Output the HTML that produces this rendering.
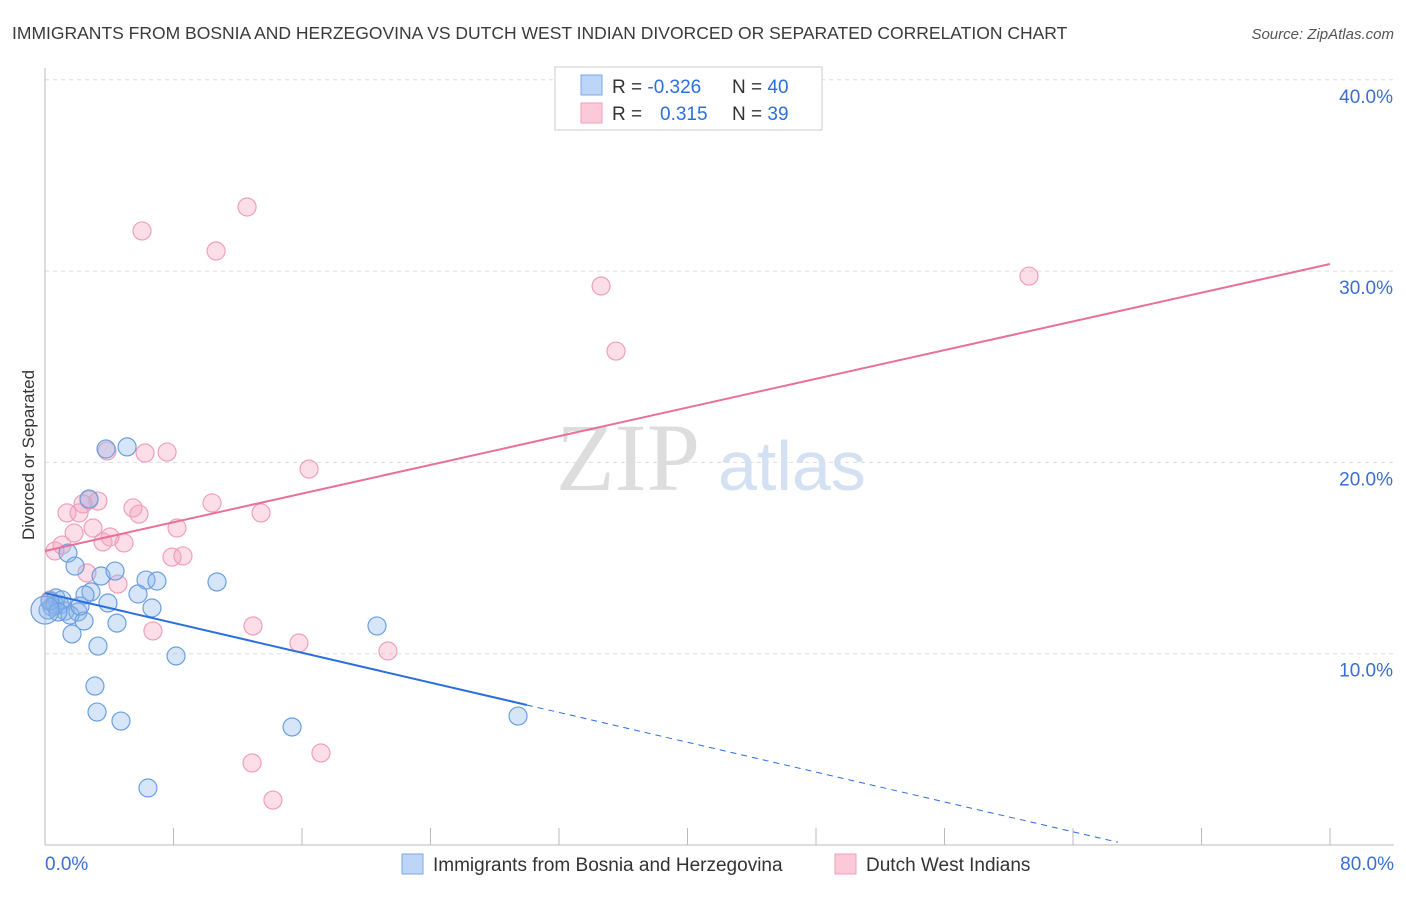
<!DOCTYPE html>
<html><head><meta charset="utf-8"><style>
body{margin:0;background:#fff;font-family:"Liberation Sans",sans-serif;}
</style></head><body>
<svg width="1406" height="892" xmlns="http://www.w3.org/2000/svg" font-family="Liberation Sans, sans-serif">
<text x="12" y="39" font-size="17.5" fill="#3a3a3a">IMMIGRANTS FROM BOSNIA AND HERZEGOVINA VS DUTCH WEST INDIAN DIVORCED OR SEPARATED CORRELATION CHART</text>
<text x="1394" y="39" font-size="15" fill="#555" text-anchor="end" font-style="italic">Source: ZipAtlas.com</text>
<g id="grid"></g>
<text x="700" y="490" font-size="96" fill="#ddd" text-anchor="end" font-family="Liberation Serif, serif">ZIP</text>
<text x="718" y="490" font-size="70" fill="#d4e1f3">atlas</text>
<text transform="translate(34,455) rotate(-90)" font-size="17" fill="#333" text-anchor="middle">Divorced or Separated</text>
<g id="pts"></g>
<g id="lines"></g>
<g>
<rect x="555" y="67" width="267" height="63" fill="#fff" stroke="#ccc"/>
<rect x="581" y="75" width="21" height="20" fill="#bdd5f7" stroke="#7ba7e6"/>
<rect x="581" y="103" width="21" height="20" fill="#fcc9d8" stroke="#f0a0b8"/>
<text x="612" y="93" font-size="19" fill="#333">R = <tspan fill="#2a6fdb">-0.326</tspan><tspan x="732">N = </tspan><tspan fill="#2a6fdb">40</tspan></text>
<text x="612" y="120" font-size="19" fill="#333">R = <tspan x="660" fill="#2a6fdb">0.315</tspan><tspan x="732">N = </tspan><tspan fill="#2a6fdb">39</tspan></text>
</g>
<g>
<rect x="402" y="854" width="21" height="20" fill="#bdd5f7" stroke="#7ba7e6"/>
<text x="433" y="871" font-size="19" fill="#333">Immigrants from Bosnia and Herzegovina</text>
<rect x="835" y="854" width="21" height="20" fill="#fcc9d8" stroke="#f0a0b8"/>
<text x="866" y="871" font-size="19" fill="#333">Dutch West Indians</text>
</g>
</svg>
<script>
const yTicks=[10,20,30,40];
const yTickLabels=["10.0%","20.0%","30.0%","40.0%"];
const xEndLabels=["0.0%","80.0%"];
const blueX=[3.80,5.11,2.74,1.43,1.87,3.49,4.36,6.29,6.97,10.71,2.86,2.49,5.79,3.92,6.66,0.68,0.93,0.44,0.19,1.25,2.05,1.56,2.43,4.48,1.68,3.30,8.16,20.67,3.11,3.24,4.73,15.38,29.45,6.41,0.62,1.06,0.31,2.18,0.81,0];
const blueY=[20.70,20.81,18.09,15.26,14.58,14.06,14.32,13.85,13.80,13.75,13.23,13.07,13.12,12.65,12.39,12.91,12.55,12.44,12.28,12.23,12.18,12.02,11.71,11.60,11.03,10.40,9.88,11.45,8.31,6.95,6.48,6.17,6.74,2.98,12.55,12.81,12.75,12.49,12.18,12.28];
const pinkX=[12.58,6.04,10.65,61.26,34.62,35.55,3.86,6.23,7.60,16.44,2.74,3.30,2.37,1.37,2.12,5.48,10.40,5.85,13.45,2.99,8.22,1.81,4.05,3.61,4.92,1.06,0.62,7.91,8.59,2.61,4.54,12.95,6.72,15.81,21.35,17.18,12.89,14.19,0.31];
const pinkY=[33.35,32.10,31.05,29.74,29.22,25.82,20.60,20.49,20.54,19.65,18.03,17.98,17.83,17.36,17.36,17.62,17.88,17.30,17.36,16.57,16.57,16.31,16.10,15.84,15.79,15.68,15.37,15.05,15.11,14.22,13.64,11.45,11.19,10.56,10.14,4.81,4.29,2.35,12.81];
const blueTrend=[13.17,-0.195]; // intercept, slope
const pinkTrend=[15.37,0.1875];
const blueSolidEnd=30, blueDashEnd=66.8, pinkEnd=80;

const NS="http://www.w3.org/2000/svg";
const X=v=>45+v/80*1285;
const Y=v=>845-v*19.13;
function mk(tag,attrs,parent){const e=document.createElementNS(NS,tag);for(const k in attrs)e.setAttribute(k,attrs[k]);parent.appendChild(e);return e;}
const grid=document.getElementById('grid');
yTicks.forEach((t,i)=>{
  const l=mk('line',{x1:45,x2:1394,y1:Y(t),y2:Y(t),stroke:'#ddd','stroke-dasharray':'4,4'},grid);
  
  
  const tx=mk('text',{x:1393,y:Y(t)+23,'font-size':19,fill:'#3a6fd0','text-anchor':'end'},grid);
  tx.textContent=yTickLabels[i];
  
  
});
const ax=mk('line',{x1:45,x2:45,y1:68,y2:845,stroke:'#bbb'},grid);


const bx=mk('line',{x1:45,x2:1394,y1:845,y2:845,stroke:'#bbb'},grid);


for(let i=0;i<=10;i++){
  const t=mk('line',{x1:X(i*8),x2:X(i*8),y1:828,y2:845,stroke:'#bbb'},grid);
  
  
}
[[0,'start',45],[80,'end',1394]].forEach((d,i)=>{
  const t=mk('text',{x:d[2],y:870,'font-size':19,fill:'#3a6fd0','text-anchor':d[1]},grid);
  t.textContent=xEndLabels[i];
  
  
});
const pts=document.getElementById('pts');
pinkX.forEach((x,i)=>{
  const c=mk('circle',{cx:X(x),cy:Y(pinkY[i]),r:9,fill:'rgba(244,160,190,0.35)',stroke:'#f0a0b8','stroke-width':1.2},pts);
  
  
});
blueX.forEach((x,i)=>{
  const c=mk('circle',{cx:X(x),cy:Y(blueY[i]),r:(i==blueX.length-1?14:9),fill:'rgba(140,180,235,0.35)',stroke:'#6a9fe0','stroke-width':1.2},pts);
  
  
});
const lines=document.getElementById('lines');
const bt=v=>blueTrend[0]+blueTrend[1]*v, pt=v=>pinkTrend[0]+pinkTrend[1]*v;
const l1=mk('line',{x1:X(0),y1:Y(bt(0)),x2:X(blueSolidEnd),y2:Y(bt(blueSolidEnd)),stroke:'#2a6fdb','stroke-width':2},lines);


const l2=mk('line',{x1:X(blueSolidEnd),y1:Y(bt(blueSolidEnd)),x2:X(blueDashEnd),y2:Y(bt(blueDashEnd)),stroke:'#2a6fdb','stroke-width':1,'stroke-dasharray':'6,5'},lines);


const l3=mk('line',{x1:X(0),y1:Y(pt(0)),x2:X(pinkEnd),y2:Y(pt(pinkEnd)),stroke:'#e8709a','stroke-width':2},lines);


</script>
</body></html>
